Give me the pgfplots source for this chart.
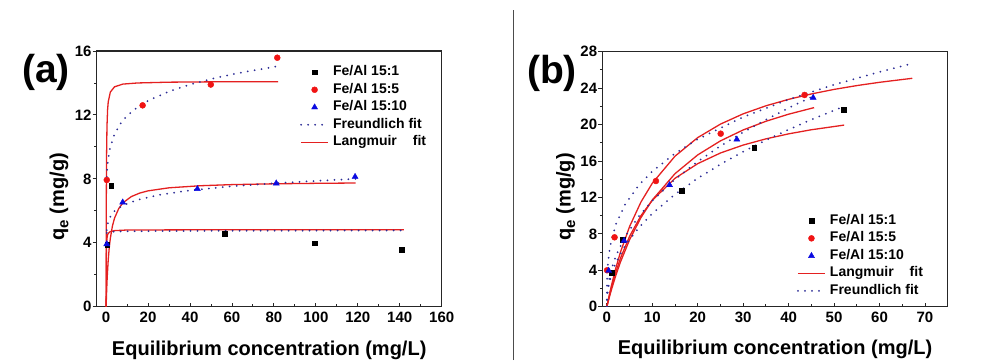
\documentclass[border=0pt]{standalone}
\usepackage{pgfplots}
\pgfplotsset{compat=1.18}
\usepackage{fontspec}
\setmainfont{Liberation Sans}
\definecolor{fred}{RGB}{228,32,32}
\definecolor{mred}{RGB}{240,20,20}
\definecolor{mblue}{RGB}{10,10,225}
\definecolor{fnavy}{RGB}{45,45,150}
\newcommand{\qelabel}{q\raisebox{-0.22em}{\fontsize{15}{15}\selectfont e}\hspace{6pt}(mg/g)}
\begin{document}
\begin{tikzpicture}[x=1pt,y=1pt]
\useasboundingbox (0pt,0pt) rectangle (1001pt,360pt);
\pgfplotsset{
 lang/.style={fred, line width=1.3pt, no marks},
 freu/.style={fnavy, line width=2pt, line cap=round, dash pattern=on 0pt off 7pt, no marks},
 sq/.style={only marks, mark=square*, mark size=2.4pt, black},
 ci/.style={only marks, mark=*, mark size=3pt, mred},
 tr/.style={only marks, mark=triangle*, mark size=3.5pt, mblue},
 myax/.style={
   scale only axis,
   axis line style={line width=1.1pt, black!85},
   tick pos=left, tick align=outside,
   major tick length=4pt, minor tick length=2.5pt,
   every tick/.append style={line width=0.9pt, black!85},
   major x tick style={yshift=4pt}, minor x tick style={yshift=2.5pt},
   minor x tick num=1, minor y tick num=1,
   /pgf/number format/assume math mode=true,
   ticklabel style={font=\bfseries\fontsize{15}{15}\selectfont},
   yticklabel style={inner sep=1pt},
   xticklabel style={inner sep=0pt, yshift=-1pt},
   label style={font=\bfseries\fontsize{20}{20}\selectfont},
   legend style={draw=none, fill=none, inner sep=0pt,
     font=\bfseries\fontsize{14}{14}\selectfont,
     nodes={inner sep=0pt, text height=10pt, text depth=3pt},
     row sep=4.5pt, column sep=4pt},
   legend cell align=left,
   legend image code/.code={\draw[mark repeat=2,mark phase=2,##1] plot coordinates {(0pt,0pt) (13.5pt,0pt) (27pt,0pt)};},
 }
}
\draw[line width=0.8pt, black!70] (513pt,0pt) -- (513pt,350pt);
\node[font=\bfseries\fontsize{39}{39}\selectfont] at (46pt,288pt) {(a)};
\node[font=\bfseries\fontsize{39}{39}\selectfont] at (552pt,287pt) {(b)};

\begin{axis}[myax, at={(96.7pt,53.3pt)}, anchor=south west, width=345pt, height=255.7pt,
 xmin=-4.5, xmax=160, ymin=0, ymax=16,
 xtick={0,20,...,160}, ytick={0,4,...,16},
 xlabel={Equilibrium concentration (mg/L)},
 ylabel={\qelabel},
 xlabel style={at={(axis description cs:0.5,-0.189)}, anchor=base},
 ylabel style={at={(axis description cs:-0.109,0.43)}, anchor=center},
 legend style={at={(axis description cs:0.589,0.943)}, anchor=north west}]
\addplot[lang, forget plot] coordinates {(0,0)(0.01,0.80)(0.03,1.81)(0.05,2.41)(0.1,3.21)(0.2,3.86)(0.4,4.28)(0.7,4.50)(1,4.59)(2,4.70)(4,4.76)(10,4.80)(40,4.81)(142,4.82)};
\addplot[lang, forget plot] coordinates {(0,0)(0.02,2.35)(0.05,4.70)(0.1,7.05)(0.2,9.40)(0.4,11.28)(0.7,12.34)(1,12.82)(2,13.43)(4,13.76)(8,13.93)(15,14.00)(30,14.05)(50,14.07)(82,14.08)};
\addplot[lang, forget plot] coordinates {(0,0)(0.1,0.44)(0.25,1.02)(0.5,1.81)(1,2.94)(1.5,3.72)(2,4.28)(3,5.05)(4,5.54)(6,6.14)(8,6.50)(12,6.89)(16,7.11)(20,7.25)(30,7.44)(45,7.57)(60,7.64)(80,7.69)(100,7.72)(119,7.74)};
\addplot[freu, forget plot] coordinates {(0.3,8.13)(0.6,8.77)(1,9.28)(2,10.01)(4,10.80)(7,11.48)(10,11.95)(15,12.49)(20,12.89)(30,13.47)(40,13.90)(50,14.25)(60,14.54)(70,14.78)(82,15.05)};
\addplot[freu, forget plot] coordinates {(0.3,4.79)(0.6,5.08)(1,5.31)(2,5.63)(4,5.98)(8,6.34)(15,6.69)(25,6.99)(40,7.28)(60,7.54)(80,7.72)(100,7.87)(119,8.00)};
\addplot[freu, forget plot] coordinates {(0.3,4.62)(1,4.66)(3,4.69)(10,4.72)(30,4.74)(60,4.75)(100,4.76)(141,4.77)};
\addplot[sq, forget plot] coordinates {(0.5,3.9)(2.4,7.57)(56.6,4.59)(99.4,3.97)(141,3.55)};
\addplot[ci, forget plot] coordinates {(0.3,7.93)(17.4,12.6)(49.9,13.9)(81.6,15.58)};
\addplot[tr, forget plot] coordinates {(0.3,3.92)(7.9,6.53)(43.5,7.37)(81.1,7.72)(118.7,8.13)};
\addlegendimage{sq}\addlegendentry{Fe/Al 15:1}
\addlegendimage{ci}\addlegendentry{Fe/Al 15:5}
\addlegendimage{tr}\addlegendentry{Fe/Al 15:10}
\addlegendimage{freu}\addlegendentry{Freundlich fit}
\addlegendimage{lang}\addlegendentry{Langmuir\hspace{16pt}fit}
\end{axis}

\begin{axis}[myax, at={(602.3pt,53.3pt)}, anchor=south west, width=345.4pt, height=255pt,
 xmin=-1, xmax=75, ymin=0, ymax=28,
 xtick={0,10,...,70}, ytick={0,4,...,28},
 xlabel={Equilibrium concentration (mg/L)},
 ylabel={\qelabel},
 xlabel style={at={(axis description cs:0.5,-0.189)}, anchor=base},
 ylabel style={at={(axis description cs:-0.106,0.43)}, anchor=center},
 legend style={at={(axis description cs:0.563,0.363)}, anchor=north west}]
\addplot[lang, forget plot] coordinates {(0,0)(0.5,1.20)(1,2.31)(2,4.29)(3,6.00)(5,8.80)(7.5,11.49)(10,13.56)(15,16.53)(20,18.57)(25,20.05)(30,21.18)(35,22.06)(40,22.77)(45,23.36)(50,23.86)(55,24.28)(60,24.64)(67.2,25.08)};
\addplot[lang, forget plot] coordinates {(0,0)(0.5,0.95)(1,1.85)(2,3.47)(3,4.91)(5,7.35)(7.5,9.78)(10,11.72)(15,14.61)(20,16.67)(25,18.21)(30,19.41)(35,20.36)(40,21.14)(45.6,21.86)};
\addplot[lang, forget plot] coordinates {(0,0)(0.5,1.09)(1,2.09)(2,3.84)(3,5.33)(5,7.73)(7.5,9.99)(10,11.69)(15,14.10)(20,15.71)(25,16.88)(30,17.75)(35,18.43)(40,18.98)(45,19.43)(52.2,19.94)};
\addplot[freu, forget plot] coordinates {(0,0)(0.05,2.91)(0.2,4.46)(0.5,5.92)(1,7.32)(2,9.06)(4,11.21)(7,13.32)(10,14.86)(15,16.83)(20,18.39)(30,20.83)(40,22.76)(50,24.38)(60,25.78)(67.2,26.70)};
\addplot[freu, forget plot] coordinates {(0,0)(0.05,1.05)(0.2,1.98)(0.5,2.99)(1,4.10)(2,5.61)(4,7.68)(7,9.90)(10,11.64)(15,13.99)(20,15.94)(25,17.64)(30,19.16)(35,20.54)(40,21.82)(45.4,23.12)};
\addplot[freu, forget plot] coordinates {(0,0)(0.05,0.88)(0.2,1.67)(0.5,2.55)(1,3.52)(2,4.85)(4,6.69)(7,8.67)(10,10.23)(15,12.34)(20,14.10)(25,15.64)(30,17.02)(35,18.28)(40,19.45)(45,20.54)(52.2,22.00)};
\addplot[sq, forget plot] coordinates {(1.1,3.7)(3.4,7.32)(16.5,12.74)(32.4,17.5)(52.2,21.6)};
\addplot[ci, forget plot] coordinates {(0.05,4.0)(1.7,7.62)(10.8,13.8)(25.05,19.0)(43.5,23.25)};
\addplot[tr, forget plot] coordinates {(0.4,3.95)(3.8,7.25)(13.8,13.36)(28.6,18.37)(45.4,22.95)};
\addlegendimage{sq}\addlegendentry{Fe/Al 15:1}
\addlegendimage{ci}\addlegendentry{Fe/Al 15:5}
\addlegendimage{tr}\addlegendentry{Fe/Al 15:10}
\addlegendimage{lang}\addlegendentry{Langmuir\hspace{16pt}fit}
\addlegendimage{freu}\addlegendentry{Freundlich fit}
\end{axis}
\end{tikzpicture}
\end{document}
